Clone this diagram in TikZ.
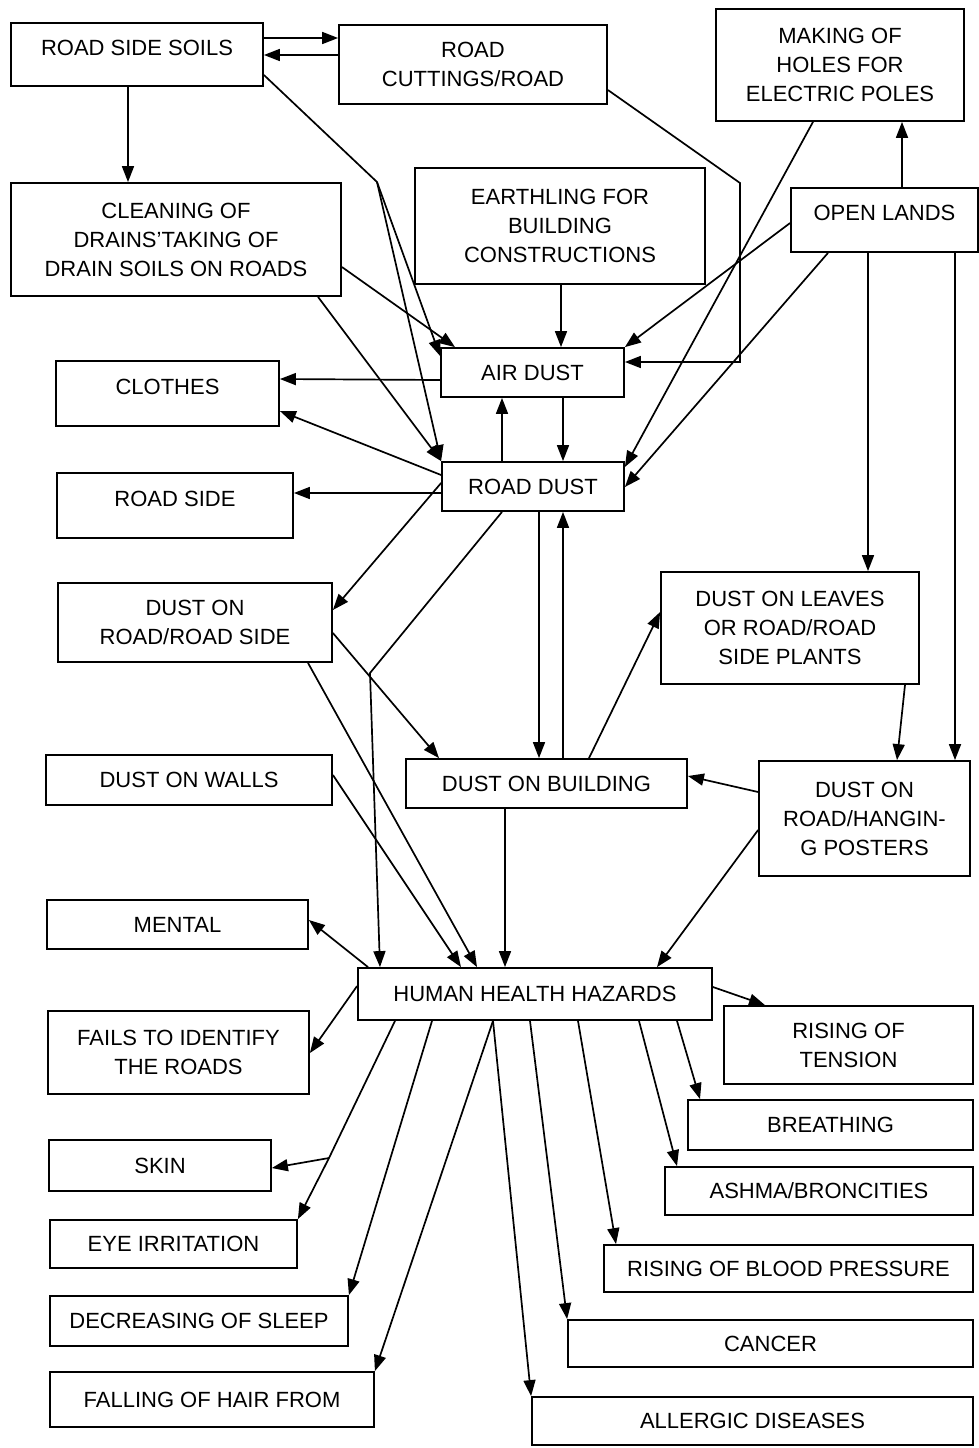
\documentclass[tikz,border=0pt]{standalone}
\usepackage{fontspec}
\setmainfont{Liberation Sans}
\usetikzlibrary{arrows.meta}
\begin{document}
\begin{tikzpicture}[x=1pt,y=-1pt,
  box/.style={draw, line width=1.8pt, inner sep=0pt, align=center,
    font=\fontsize{22}{29}\selectfont},
  raised/.style={text depth=14pt},
  arr/.style={-{Triangle[length=16pt,width=12pt]}, line width=1.7pt},
  ln/.style={line width=1.7pt}]
\useasboundingbox (0,0) rectangle (979,1448);
% ---------- boxes ----------
\node[box, raised, minimum width=252pt, minimum height=63pt] (rss) at (137,54.5) {ROAD SIDE SOILS};
\node[box, minimum width=268pt, minimum height=79pt] (rc) at (473,64.5) {ROAD\\CUTTINGS/ROAD};
\node[box, minimum width=248pt, minimum height=112pt] (mh) at (840,65) {MAKING OF\\HOLES FOR\\ELECTRIC POLES};
\node[box, raised, minimum width=187pt, minimum height=64pt] (ol) at (884.5,220) {OPEN LANDS};
\node[box, minimum width=290pt, minimum height=116pt] (eb) at (560,226) {EARTHLING FOR\\BUILDING\\CONSTRUCTIONS};
\node[box, minimum width=330pt, minimum height=113pt] (cd) at (176,239.5) {CLEANING OF\\DRAINS’TAKING OF\\DRAIN SOILS ON ROADS};
\node[box, minimum width=183pt, minimum height=49pt] (ad) at (532.5,372.5) {AIR DUST};
\node[box, minimum width=182pt, minimum height=49pt] (rd) at (533,486.5) {ROAD DUST};
\node[box, raised, minimum width=223pt, minimum height=65pt] (cl) at (167.5,393.5) {CLOTHES};
\node[box, raised, minimum width=236pt, minimum height=65pt] (rs) at (175,505.5) {ROAD SIDE};
\node[box, minimum width=274pt, minimum height=79pt] (dr) at (195,622.5) {DUST ON\\ROAD/ROAD SIDE};
\node[box, minimum width=258pt, minimum height=112pt] (dl) at (790,628) {DUST ON LEAVES\\OR ROAD/ROAD\\SIDE PLANTS};
\node[box, minimum width=281pt, minimum height=49pt] (db) at (546.5,783.5) {DUST ON BUILDING};
\node[box, minimum width=211pt, minimum height=115pt] (dp) at (864.5,818.5) {DUST ON\\ROAD/HANGIN-\\G POSTERS};
\node[box, minimum width=286pt, minimum height=50pt] (dw) at (189,780) {DUST ON WALLS};
\node[box, minimum width=261pt, minimum height=49pt] (me) at (177.5,924.5) {MENTAL};
\node[box, minimum width=261pt, minimum height=83pt] (fi) at (178.5,1052.5) {FAILS TO IDENTIFY\\THE ROADS};
\node[box, minimum width=354pt, minimum height=52pt] (hh) at (535,994) {HUMAN HEALTH HAZARDS};
\node[box, minimum width=249pt, minimum height=78pt] (rt) at (848.5,1045) {RISING OF\\TENSION};
\node[box, minimum width=285pt, minimum height=50pt] (br) at (830.5,1125) {BREATHING};
\node[box, minimum width=308pt, minimum height=48pt] (as) at (819,1191) {ASHMA/BRONCITIES};
\node[box, minimum width=369pt, minimum height=47pt] (bp) at (788.5,1268.5) {RISING OF BLOOD PRESSURE};
\node[box, minimum width=405pt, minimum height=47pt] (ca) at (770.5,1343.5) {CANCER};
\node[box, minimum width=441pt, minimum height=48pt] (al) at (752.5,1421) {ALLERGIC DISEASES};
\node[box, minimum width=222pt, minimum height=51pt] (sk) at (160,1165.5) {SKIN};
\node[box, minimum width=247pt, minimum height=48pt] (ei) at (173.5,1244) {EYE IRRITATION};
\node[box, minimum width=298pt, minimum height=50pt] (ds) at (199,1321) {DECREASING OF SLEEP};
\node[box, minimum width=324pt, minimum height=55pt] (fh) at (212,1399.5) {FALLING OF HAIR FROM};
% ---------- bend points ----------
\coordinate (k1) at (377,182);
\coordinate (k2) at (740,183);
\coordinate (k4) at (370,673);
\coordinate (k5) at (329,1158);
% ---------- connectors ----------
\draw[arr] (rss.east |- 0,38) -- (rc.west |- 0,38);
\draw[arr] (rc.west |- 0,55) -- (rss.east |- 0,55);
\draw[arr] (rss.south -| 128,0) -- (cd.north -| 128,0);
\draw[arr] (rss.east |- 0,75) -- (k1) -- (ad.west |- 0,356);
\draw[arr] (k1) -- (rd.north west);
\draw[arr] (rc.east |- 0,90) -- (k2) |- (ad.east |- 0,362);
\draw[arr] (cd.east |- 0,267) -- (ad.north -| 455,0);
\draw[arr] (cd.south -| 318,0) -- (rd.north west);
\draw[arr] (eb.south -| 561,0) -- (ad.north -| 561,0);
\draw[arr] (ol.west |- 0,223) -- (ad.north east);
\draw[arr] (mh.south -| 813,0) -- (rd.east |- 0,467);
\draw[arr] (ol.south -| 828,0) -- (rd.east |- 0,487);
\draw[arr] (ol.north -| 902,0) -- (mh.south -| 902,0);
\draw[arr] (ad.west |- 0,380) -- (cl.east |- 0,379);
\draw[arr] (rd.west |- 0,475) -- (cl.east |- 0,411);
\draw[arr] (rd.north -| 502,0) -- (ad.south -| 502,0);
\draw[arr] (ad.south -| 563,0) -- (rd.north -| 563,0);
\draw[arr] (rd.west |- 0,493) -- (rs.east |- 0,493);
\draw[arr] (rd.west |- 0,483) -- (dr.east |- 0,610);
\draw[arr] (rd.south -| 502,0) -- (k4) -- (hh.north -| 380,0);
\draw[arr] (dr.east |- 0,633) -- (db.north -| 439,0);
\draw[arr] (dr.south -| 308,0) -- (hh.north -| 477,0);
\draw[arr] (dw.east |- 0,775) -- (hh.north -| 461,0);
\draw[arr] (db.south -| 505,0) -- (hh.north -| 505,0);
\draw[arr] (rd.south -| 539,0) -- (db.north -| 539,0);
\draw[arr] (db.north -| 563,0) -- (rd.south -| 563,0);
\draw[arr] (db.north -| 589,0) -- (dl.west |- 0,612);
\draw[arr] (ol.south -| 868,0) -- (dl.north -| 868,0);
\draw[arr] (ol.south -| 955,0) -- (dp.north -| 955,0);
\draw[arr] (dl.south -| 905,0) -- (dp.north -| 897,0);
\draw[arr] (dp.west |- 0,792) -- (db.east |- 0,776);
\draw[arr] (dp.west |- 0,830) -- (hh.north -| 657,0);
\draw[arr] (hh.north -| 368,0) -- (me.east |- 0,920);
\draw[arr] (hh.west |- 0,986) -- (fi.east |- 0,1053);
\draw[arr] (hh.east |- 0,987) -- (rt.north -| 765,0);
\draw[arr] (hh.south -| 677,0) -- (br.north -| 700,0);
\draw[arr] (hh.south -| 639,0) -- (as.north -| 677,0);
\draw[arr] (hh.south -| 578,0) -- (bp.north -| 616,0);
\draw[arr] (hh.south -| 530,0) -- (ca.north west);
\draw[arr] (hh.south -| 493,0) -- (al.north west);
\draw[arr] (hh.south -| 493,0) -- (fh.north east);
\draw[arr] (hh.south -| 432,0) -- (ds.north east);
\draw[arr] (hh.south -| 395,0) -- (k5) -- (ei.north east);
\draw[arr] (k5) -- (sk.east |- 0,1168);
\end{tikzpicture}
\end{document}
